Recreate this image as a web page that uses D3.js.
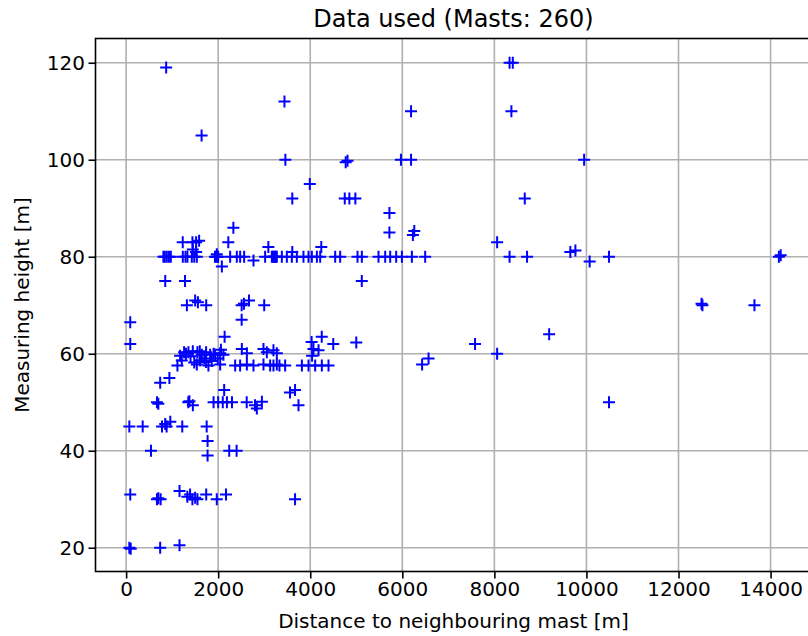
<!DOCTYPE html>
<html>
<head>
<meta charset="utf-8">
<script src="https://cdn.jsdelivr.net/npm/d3@7"></script>
<style>
  body { margin: 0; background: #fff; }
  text { font-family: "DejaVu Sans", sans-serif; fill: #000; }
</style>
</head>
<body>
<div id="chart"></div>
<script>
// distance to neighbouring mast [m]
let distance = [
  870, 3440, 6190, 1640, 3460, 4770, 4810, 5970, 6190, 3990,
  3610, 4750, 4850, 4980, 5720, 5720, 6230, 6260, 8330, 8400,
  8370, 9950, 8660, 8060, 8330, 8710, 9650, 9760, 10070, 10490,
  14180, 14220, 12520, 12500, 13650, 9190, 7580, 8060, 10490,
  // 80 m band
  811, 840, 884, 930, 971, 1232, 1290, 1332, 1427, 1480, 1536, 1930, 1956, 1970, 1985, 2000,
  2260, 2405, 2477, 2564, 2767, 3020, 3166, 3190, 3210, 3238, 3250, 3274, 3383, 3492,
  3600, 3709, 3853, 3962, 4035, 4144, 4216, 4542, 4650, 5027, 5121, 5483, 5628, 5737,
  5867, 5991, 6208, 6497,
  1230, 1441, 1521, 1586, 1450, 1520, 2220, 2330, 3090, 3610, 4240, 2080, 5120, 850, 1280,
  // 70 m band
  1320, 1500, 1560, 1740, 2510, 2560, 2670, 3000, 2510, 90,
  // 60 m band
  90, 2140, 1173, 1260, 1354, 1449, 1549, 1645, 1738, 1825, 1934, 2043, 2114,
  1115, 1210, 1536, 1608, 1738, 1788, 2043,
  2369, 2477, 2623, 2767, 2984, 3129, 3274,
  2514, 2623, 2984, 3057, 3201, 3274,
  3201, 3331, 3455, 3818, 3962, 4107, 4252, 4397,
  4030, 4250, 4500, 5000, 4070, 4180, 4040, 6430, 6570,
  1300, 1400, 1600, 1700, 1860, 1900, 1990, 1480, 2060,
  // 50 m band
  940, 740, 670, 700, 1350, 1450, 1375, 1900, 2000, 2100, 2190, 2300, 2130,
  2620, 2800, 2840, 2950, 3560, 3670, 3745,
  // 40-45 m
  70, 360, 780, 850, 880, 960, 1220, 1750, 1770, 540, 1770, 2240, 2400,
  // 30 m
  90, 670, 700, 750, 1160, 1330, 1390, 1440, 1500, 1550, 1740, 1970, 2170, 3670,
  // 20 m
  70, 100, 740, 1160
];

// measuring height [m]
let height = [
  119, 112, 110, 105, 100, 99.5, 99.8, 100, 100, 95,
  92, 92, 92, 92, 89, 85, 84.5, 85.3, 120, 120,
  110, 100, 92, 83, 80, 80, 81, 81.3, 79, 80,
  80, 80.3, 70, 70.3, 70, 64, 62, 60, 50,
  80, 80, 80, 80, 80, 80, 80, 80, 80, 80, 80, 80, 80, 80.5, 80, 80,
  80, 80, 80, 80, 79.2, 80, 80, 80, 80, 80, 80, 80, 80, 80,
  80, 80, 80, 80, 80, 80, 80, 80, 80, 80, 80, 80, 80, 80,
  80, 80, 80, 80,
  83, 83, 83, 83.3, 81.5, 81, 83, 86, 82, 81, 82, 78, 75, 75, 75,
  70, 71, 70.6, 70, 70, 70.3, 71, 70, 67, 66.5,
  62, 63.5, 59.6, 60.3, 60.3, 60.5, 60.3, 59.8, 60.3, 59.8, 59.8, 60.1, 59.8,
  57.6, 58.6, 57.8, 58.6, 58.3, 57.6, 57.8,
  57.6, 57.6, 57.8, 57.6, 57.8, 57.6, 57.8,
  61, 60.1, 61, 60.3, 60.7, 60.1,
  57.6, 57.6, 57.6, 57.6, 57.6, 57.6, 57.6, 57.6,
  62.4, 63.5, 62, 62.3, 61, 60.7, 59.6, 57.8, 59,
  60, 59.5, 60.5, 59, 58.5, 60, 59, 58.2, 60.8,
  55, 54, 50, 49.7, 50, 49.4, 50.2, 50, 50, 50, 50, 50, 52.5,
  50, 49.4, 48.7, 50.1, 52, 52.5, 49.4,
  45, 45, 45, 45.5, 45, 46, 45, 45, 42, 40, 39, 40, 40,
  31, 30, 30.2, 30, 31.7, 30.5, 31, 30, 30.3, 30, 31, 30, 31, 30,
  20, 19.8, 20, 20.5
];

let xTicks = [0, 2000, 4000, 6000, 8000, 10000, 12000, 14000];
let yTicks = [20, 40, 60, 80, 100, 120];

let width = 808, svgHeight = 636;
let plot = {left: 95.5, right: 812, top: 38.5, bottom: 571.5};

let svg = d3.select("#chart").append("svg")
    .attr("width", width)
    .attr("height", svgHeight);

svg.append("rect")
    .attr("width", width)
    .attr("height", svgHeight)
    .attr("fill", "#fff");

let x = d3.scaleLinear()
    .domain([-665, 14900])
    .range([plot.left, plot.right]);

let y = d3.scaleLinear()
    .domain([15.1, 125])
    .range([plot.bottom, plot.top]);

// grid
svg.append("g")
    .selectAll("line")
    .data(xTicks)
    .enter()
    .append("line")
    .attr("x1", d => x(d)).attr("x2", d => x(d))
    .attr("y1", plot.top).attr("y2", plot.bottom)
    .style("stroke", "#b0b0b0")
    .style("stroke-width", 1.6);

svg.append("g")
    .selectAll("line")
    .data(yTicks)
    .enter()
    .append("line")
    .attr("x1", plot.left).attr("x2", plot.right)
    .attr("y1", d => y(d)).attr("y2", d => y(d))
    .style("stroke", "#b0b0b0")
    .style("stroke-width", 1.6);

// axes
let xAxis = svg.append("g")
    .attr("transform", "translate(0," + plot.bottom + ")")
    .call(d3.axisBottom(x).tickValues(xTicks).tickSize(7).tickPadding(3.5).tickFormat(d3.format("d")));

let yAxis = svg.append("g")
    .attr("transform", "translate(" + plot.left + ",0)")
    .call(d3.axisLeft(y).tickValues(yTicks).tickSize(7).tickPadding(3.5).tickFormat(d3.format("d")));

[xAxis, yAxis].forEach(function (a) {
    a.select(".domain").remove();
    a.selectAll(".tick line").style("stroke", "#000").style("stroke-width", 1.6);
    a.selectAll(".tick text").style("font-size", "20px").style("fill", "#000")
        .attr("font-family", "DejaVu Sans, sans-serif");
});

// frame
svg.append("rect")
    .attr("x", plot.left)
    .attr("y", plot.top)
    .attr("width", plot.right - plot.left)
    .attr("height", plot.bottom - plot.top)
    .attr("fill", "none")
    .style("stroke", "#000")
    .style("stroke-width", 1.6);

// markers
let s = 6;
let points = distance.map((d, i) => [d, height[i]]);
svg.append("g")
    .selectAll("path")
    .data(points)
    .enter()
    .append("path")
    .attr("d", function (d) {
        let px = x(d[0]), py = y(d[1]);
        return "M" + (px - s) + "," + py + "H" + (px + s) + "M" + px + "," + (py - s) + "V" + (py + s);
    })
    .style("stroke", "#0000ff")
    .style("stroke-width", 2)
    .style("fill", "none");

// labels
svg.append("text")
    .attr("x", 453.5)
    .attr("y", 27)
    .attr("text-anchor", "middle")
    .style("font-size", "24px")
    .text("Data used (Masts: 260)");

svg.append("text")
    .attr("x", 453.5)
    .attr("y", 628)
    .attr("text-anchor", "middle")
    .style("font-size", "20px")
    .text("Distance to neighbouring mast [m]");

svg.append("text")
    .attr("transform", "translate(29," + ((plot.top + plot.bottom) / 2) + ") rotate(-90)")
    .attr("text-anchor", "middle")
    .style("font-size", "20px")
    .text("Measuring height [m]");
</script>
</body>
</html>
